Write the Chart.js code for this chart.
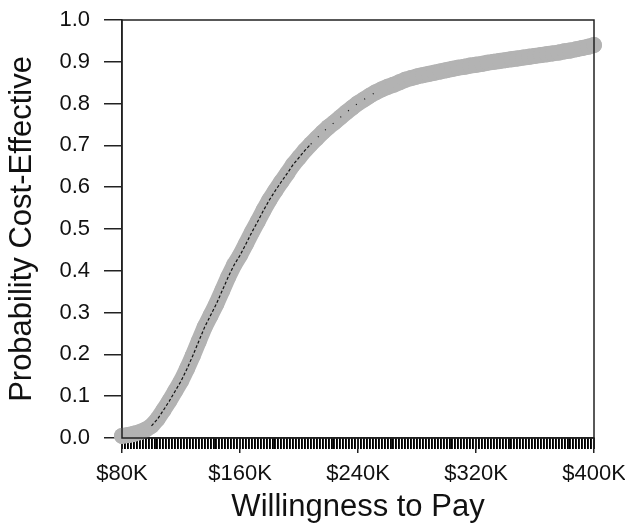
<!DOCTYPE html>
<html>
<head>
<meta charset="utf-8">
<script src="https://cdn.jsdelivr.net/npm/chart.js@4"></script>
<style>
  body { margin: 0; background: #fff; }
</style>
</head>
<body>
<canvas id="ceac" width="625" height="523"></canvas>
<script>
// willingness to pay ($K) and probability cost-effective
const wtp = [80, 84, 88, 92, 96, 100, 104, 108, 112, 116, 120, 124, 128, 132, 136, 140,
  144, 148, 152, 156, 160, 164, 168, 172, 176, 180, 184, 188, 192, 196, 200, 204, 208,
  212, 216, 220, 224, 228, 232, 236, 240, 244, 248, 252, 256, 260, 264, 268, 272, 276,
  280, 284, 288, 292, 296, 300, 304, 308, 312, 316, 320, 324, 328, 332, 336, 340, 344,
  348, 352, 356, 360, 364, 368, 372, 376, 380, 384, 388, 392, 396, 400];
const probCE = [0.005, 0.007, 0.010, 0.014, 0.020, 0.029, 0.045, 0.066, 0.088, 0.112,
  0.136, 0.165, 0.197, 0.231, 0.265, 0.293, 0.321, 0.353, 0.385, 0.414, 0.437, 0.464,
  0.492, 0.518, 0.545, 0.570, 0.592, 0.613, 0.633, 0.654, 0.671, 0.688, 0.703, 0.717,
  0.731, 0.744, 0.755, 0.767, 0.779, 0.790, 0.801, 0.810, 0.819, 0.827, 0.834, 0.840,
  0.845, 0.851, 0.857, 0.861, 0.865, 0.868, 0.871, 0.874, 0.877, 0.880, 0.883, 0.886,
  0.888, 0.891, 0.893, 0.895, 0.898, 0.900, 0.902, 0.904, 0.906, 0.908, 0.910, 0.912,
  0.914, 0.916, 0.918, 0.920, 0.922, 0.925, 0.927, 0.930, 0.933, 0.936, 0.940];
const xTicks = [80, 160, 240, 320, 400];
const yTicks = [0, 0.1, 0.2, 0.3, 0.4, 0.5, 0.6, 0.7, 0.8, 0.9, 1.0];

const points = wtp.map((w, i) => ({ x: w, y: probCE[i] }));

const FONT = "'Liberation Sans', Arial, sans-serif";
const INK = '#111';
const GREY = '#b3b3b3';

// box around plot area
const frame = {
  id: 'frame',
  afterDatasetsDraw(chart) {
    const { ctx, chartArea: a } = chart;
    ctx.save();
    ctx.strokeStyle = '#222';
    ctx.lineWidth = 1.5;
    ctx.strokeRect(a.left, a.top, a.right - a.left, a.bottom - a.top);
    ctx.restore();
  }
};

function noPad(axis) {
  axis.paddingLeft = 0;
  axis.paddingRight = 0;
  axis.paddingTop = 0;
  axis.paddingBottom = 0;
}

new Chart(document.getElementById('ceac'), {
  type: 'line',
  data: {
    datasets: [
      {
        // thin black trace inside the band
        data: points,
        order: 0,
        borderColor: '#111',
        borderWidth: 1.2,
        borderDash: [3, 2],
        pointRadius: 0,
        segment: {
          borderColor: c => {
            const x = c.p0.parsed.x;
            return (x >= 100 && x < 256) ? '#111' : 'rgba(0,0,0,0)';
          },
          borderDash: c => (c.p0.parsed.x >= 208 ? [1, 9] : [3, 2])
        }
      },
      {
        // grey band of points
        data: points,
        order: 1,
        clip: false,
        borderColor: GREY,
        borderWidth: 16,
        borderCapStyle: 'round',
        borderJoinStyle: 'round',
        pointRadius: 8,
        hoverRadius: 8,
        pointBorderWidth: 0,
        pointBackgroundColor: GREY
      }
    ]
  },
  options: {
    responsive: false,
    animation: false,
    events: [],
    layout: { padding: { top: 20, right: 31, left: 0, bottom: 0 } },
    plugins: { legend: { display: false }, tooltip: { enabled: false } },
    scales: {
      rug: {
        type: 'linear',
        position: 'bottom',
        weight: -1,
        min: 80,
        max: 400,
        border: { display: false },
        grid: { drawOnChartArea: false, tickLength: 11, color: '#000', lineWidth: 1.9 },
        ticks: { display: false, stepSize: 2, autoSkip: false },
        afterFit: axis => { axis.height = 0; noPad(axis); }
      },
      x: {
        type: 'linear',
        position: 'bottom',
        min: 80,
        max: 400,
        border: { color: '#222', width: 1.5 },
        grid: { drawOnChartArea: false, tickLength: 15, color: '#222', lineWidth: 1.5 },
        afterBuildTicks: axis => { axis.ticks = xTicks.map(v => ({ value: v })); },
        ticks: {
          autoSkip: false,
          maxRotation: 0,
          padding: 8,
          color: INK,
          font: { family: FONT, size: 22 },
          callback: v => '$' + v + 'K'
        },
        title: {
          display: true,
          text: 'Willingness to Pay',
          color: INK,
          font: { family: FONT, size: 31, lineHeight: 1 },
          padding: { top: 0, bottom: 0 }
        },
        afterFit: axis => { axis.height = 85; noPad(axis); }
      },
      y: {
        type: 'linear',
        min: 0,
        max: 1,
        border: { color: '#222', width: 1.5 },
        grid: { drawOnChartArea: false, tickLength: 18, color: '#222', lineWidth: 1.5 },
        afterBuildTicks: axis => { axis.ticks = yTicks.map(v => ({ value: v })); },
        ticks: {
          padding: 14,
          color: INK,
          font: { family: FONT, size: 22 },
          callback: v => v.toFixed(1)
        },
        title: {
          display: true,
          text: 'Probability Cost-Effective',
          color: INK,
          font: { family: FONT, size: 31, lineHeight: 1 },
          padding: { top: 7, bottom: 0 }
        },
        afterFit: axis => { axis.width = 122; noPad(axis); }
      }
    }
  },
  plugins: [frame]
});
</script>
</body>
</html>
